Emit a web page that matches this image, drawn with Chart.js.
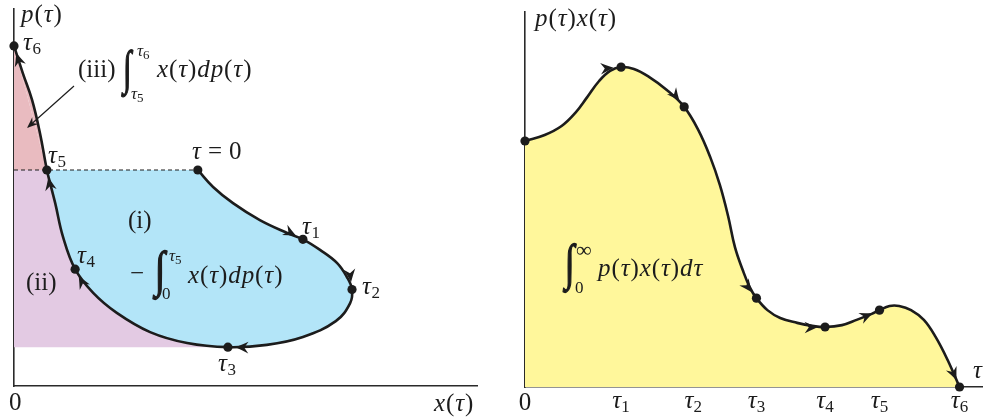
<!DOCTYPE html>
<html><head><meta charset="utf-8">
<script src="https://cdn.jsdelivr.net/npm/chart.js@4.4.1/dist/chart.umd.min.js"></script>
<style>
html,body{margin:0;padding:0;background:#fff;}
#wrap{position:relative;width:987px;height:418px;overflow:hidden;background:#fff;}
.layer{position:absolute;left:0;top:0;width:987px;height:418px;}
</style></head><body>
<div id="wrap">
<div class="layer"><canvas id="left"></canvas></div>
<div class="layer"><canvas id="right"></canvas></div>
</div>
<script>
// ---------- DATA ----------
// Left panel: parametric path (x(τ), p(τ)), τ = 0 → τ6 (arbitrary units 0..10)
const leftX = [3.97,4.30,4.73,5.31,5.90,6.24,6.61,6.98,7.19,7.30,7.26,6.95,6.24,5.46,4.62,3.74,2.94,2.22,1.71,1.32,1.06,0.89,0.78,0.71,0.56,0.39,0.19,0.00];
const leftP = [5.73,5.28,4.85,4.40,4.06,3.89,3.61,3.26,2.89,2.56,2.20,1.72,1.30,1.09,1.03,1.14,1.43,1.94,2.47,3.10,3.95,4.85,5.38,5.73,6.71,7.59,8.30,9.02];
const leftMarkIdx = [0,5,9,14,19,23,27];          // τ=0, τ1 … τ6

// Right panel: p(τ)x(τ) against τ
const rightT  = [0,0.43,0.80,1.10,1.36,1.62,1.86,2.10,2.38,2.71,3.10,3.48,3.79,4.05,4.26,4.44,4.59,4.76,4.91,5.06,5.30,5.58,5.95,6.28,6.56,6.93,7.25,7.58,7.75,7.97,8.18,8.44,8.72,8.98,9.24,9.50];
const rightPX = [6.56,6.72,6.96,7.31,7.73,8.16,8.43,8.53,8.48,8.27,7.92,7.47,6.85,6.13,5.39,4.56,3.73,3.12,2.67,2.37,2.05,1.84,1.71,1.63,1.60,1.65,1.79,1.95,2.05,2.16,2.16,2.05,1.79,1.33,0.72,0];
const rightMarkIdx = [0,7,11,19,24,28,35];
const tickValues = [0,2.10,3.68,5.06,6.56,7.75,9.50];
const tickLabels = ['0','1','2','3','4','5','6']; // '0' plain, others τ with subscript

// ---------- STYLE ----------
const INK = '#1c1c1c', AX = '#2a2a2a';
const BLUE = '#b3e5f8', PURPLE = '#e3cae3', RED = '#e9bbc0', YELLOW = '#fff79b';
const SERIF = '"Liberation Serif","DejaVu Serif",serif';
const B = 25, S = 17, SS = 13;

function pts(xs, ys, from, to) {
  const out = [];
  for (let i = from; i <= to; i++) out.push({x: xs[i], y: ys[i]});
  return out;
}

function txt(ctx, x, y, runs) {
  let cx = x;
  for (const r of runs) {
    const [t, it, sz, dy = 0, dx = 0] = r;
    cx += dx;
    ctx.font = (it ? 'italic ' : '') + sz + 'px ' + SERIF;
    ctx.fillText(t, cx, y + dy);
    cx += ctx.measureText(t).width;
  }
  return cx;
}
function math(s, size) {
  const runs = [];
  let first = true;
  for (const ch of s) { runs.push([ch, /[a-zτ]/.test(ch), size, 0, first ? 0 : 0.9]); first = false; }
  return runs;
}
function tauSub(ctx, x, y, d) { txt(ctx, x, y, [['τ', true, B], [d, false, S, 4, 0.5]]); }
function integral(ctx, x0, y0, x1, y1) {
  ctx.save();
  ctx.font = '40px ' + SERIF;
  const m = ctx.measureText('∫');
  const w = m.actualBoundingBoxLeft + m.actualBoundingBoxRight;
  const h = m.actualBoundingBoxAscent + m.actualBoundingBoxDescent;
  ctx.translate(x0, y0);
  ctx.scale((x1 - x0) / w, (y1 - y0) / h);
  ctx.lineWidth = 1.2; ctx.strokeStyle = INK;
  ctx.fillText('∫', m.actualBoundingBoxLeft, m.actualBoundingBoxAscent);
  ctx.strokeText('∫', m.actualBoundingBoxLeft, m.actualBoundingBoxAscent);
  ctx.restore();
}
function head(ctx, tx, ty, ux, uy, L, W) {
  const nx = -uy, ny = ux;
  ctx.beginPath();
  ctx.moveTo(tx, ty);
  ctx.quadraticCurveTo(tx - ux * L * 0.6 + nx * W * 0.55, ty - uy * L * 0.6 + ny * W * 0.55, tx - ux * L + nx * W, ty - uy * L + ny * W);
  ctx.lineTo(tx - ux * L * 0.68, ty - uy * L * 0.68);
  ctx.lineTo(tx - ux * L - nx * W, ty - uy * L - ny * W);
  ctx.quadraticCurveTo(tx - ux * L * 0.6 - nx * W * 0.55, ty - uy * L * 0.6 - ny * W * 0.55, tx, ty);
  ctx.closePath();
  ctx.fill();
}
function arrowsPlugin(dsIndex, idxs) {
  return {
    id: 'arrows',
    afterDatasetsDraw(chart) {
      const meta = chart.getDatasetMeta(dsIndex);
      const ctx = chart.ctx;
      ctx.save();
      ctx.fillStyle = INK;
      idxs.forEach(k => {
        if (k === 0) return;
        const p = meta.data[k];
        let dx = p.x - p.cp1x, dy = p.y - p.cp1y;
        let len = Math.hypot(dx, dy);
        if (!isFinite(len) || len < 0.5) {
          const q = meta.data[k - 1];
          dx = p.x - q.x; dy = p.y - q.y; len = Math.hypot(dx, dy);
        }
        const ux = dx / len, uy = dy / len;
        head(ctx, p.x - ux * 7.5, p.y - uy * 7.5, ux, uy, 13, 5.8);
      });
      ctx.restore();
    }
  };
}
function baseOptions(pad) {
  const axis = (isX) => ({
    type: 'linear', min: 0, max: 10,
    grid: {display: false, drawTicks: false},
    ticks: {display: false},
    border: {display: true, color: AX, width: 1.6},
    afterFit(s) { if (isX) s.height = 0; else s.width = 0; }
  });
  return {
    responsive: true, maintainAspectRatio: false, animation: false, events: [],
    layout: {padding: pad},
    plugins: {legend: {display: false}, tooltip: {enabled: false}},
    scales: {x: axis(true), y: axis(false)}
  };
}
const shapeDs = (data, color, tension, order) => ({
  data, fill: 'shape', backgroundColor: color, borderColor: 'transparent', borderWidth: 0,
  pointRadius: 0, tension, order, clip: false
});

// ---------- LEFT CHART ----------
const i0 = leftMarkIdx[0], i3 = leftMarkIdx[3], i5 = leftMarkIdx[5], i6 = leftMarkIdx[6];
const leftChart = new Chart(document.getElementById('left'), {
  type: 'line',
  data: {datasets: [
    // (ii) region (the loop interior is painted over it)
    shapeDs([{x: 0, y: leftP[i3]}, {x: leftX[i3], y: leftP[i3]}, {x: leftX[i0], y: leftP[i5]}, {x: 0, y: leftP[i5]}], PURPLE, 0, 10),
    // (i) loop interior τ=0 … τ5, closed by the dashed level
    shapeDs(pts(leftX, leftP, i0, i5), BLUE, 0.4, 9),
    // (iii) region
    shapeDs([{x: 0, y: leftP[i5]}, {x: leftX[i5], y: leftP[i5]}, {x: 0, y: leftP[i6]}], RED, 0, 8),
    shapeDs(pts(leftX, leftP, i5, i6), RED, 0.4, 7),
    // dashed level p(τ5) = p(0)
    {data: [{x: 0, y: leftP[i5]}, {x: leftX[i0], y: leftP[i0]}], borderColor: INK, borderWidth: 1.1,
     borderDash: [4, 3], pointRadius: 0, fill: false, order: 5, clip: false},
    // path
    {data: pts(leftX, leftP, 0, leftX.length - 1), borderColor: INK, borderWidth: 2.6, tension: 0.4,
     pointRadius: 0, fill: false, order: 2, clip: false},
    // marks
    {data: leftMarkIdx.map(i => ({x: leftX[i], y: leftP[i]})), showLine: false, pointRadius: 4.6,
     pointBackgroundColor: INK, pointBorderWidth: 0, order: 1, clip: false}
  ]},
  options: baseOptions({left: 14, top: 9, right: 510, bottom: 32}),
  plugins: [arrowsPlugin(5, leftMarkIdx), {
    id: 'leftText',
    afterDraw(chart) {
      const ctx = chart.ctx;
      ctx.save();
      ctx.fillStyle = INK; ctx.textBaseline = 'alphabetic';
      txt(ctx, 21, 22, math('p(τ)', B));
      tauSub(ctx, 23, 50, '6');
      txt(ctx, 78, 77, [['(iii)', false, B]]);
      integral(ctx, 121, 49, 134, 97);
      txt(ctx, 137, 56, [['τ', true, S], ['6', false, SS, 3]]);
      txt(ctx, 131, 99, [['τ', true, S], ['5', false, SS, 3]]);
      txt(ctx, 157, 77, math('x(τ)dp(τ)', B));
      tauSub(ctx, 48, 163, '5');
      txt(ctx, 192, 159, [['τ', true, B], ['=', false, B, 0, 7], ['0', false, B, 0, 7]]);
      txt(ctx, 128, 228, [['(i)', false, B]]);
      txt(ctx, 130, 281, [['−', false, B]]);
      integral(ctx, 152, 250, 168, 300);
      txt(ctx, 169, 261, [['τ', true, S], ['5', false, SS, 3]]);
      txt(ctx, 162, 299, [['0', false, S]]);
      txt(ctx, 188, 283, math('x(τ)dp(τ)', B));
      txt(ctx, 26, 290, [['(ii)', false, B]]);
      tauSub(ctx, 302, 234, '1');
      tauSub(ctx, 362, 294, '2');
      tauSub(ctx, 218, 371, '3');
      tauSub(ctx, 77, 263, '4');
      txt(ctx, 9, 410, [['0', false, B]]);
      txt(ctx, 434, 411, math('x(τ)', B));
      // pointer from the (iii) label into the region
      ctx.strokeStyle = INK; ctx.lineWidth = 1.2;
      const a = [74, 86], b = [27, 128];
      const dx = b[0] - a[0], dy = b[1] - a[1], L = Math.hypot(dx, dy);
      const ux = dx / L, uy = dy / L;
      ctx.beginPath(); ctx.moveTo(a[0], a[1]); ctx.lineTo(b[0] - ux * 6, b[1] - uy * 6); ctx.stroke();
      head(ctx, b[0], b[1], ux, uy, 11, 4.5);
      ctx.restore();
    }
  }]
});

// ---------- RIGHT CHART ----------
const rightChart = new Chart(document.getElementById('right'), {
  type: 'line',
  data: {datasets: [
    {data: pts(rightT, rightPX, 0, rightT.length - 1), borderColor: INK, borderWidth: 2.6,
     backgroundColor: YELLOW, fill: 'origin', tension: 0.4,
     pointRadius: 0, order: 2, clip: false},
    {data: rightMarkIdx.map(i => ({x: rightT[i], y: rightPX[i]})), showLine: false, pointRadius: 4.6,
     pointBackgroundColor: INK, pointBorderWidth: 0, order: 1, clip: false}
  ]},
  options: baseOptions({left: 525, top: 12, right: 0, bottom: 31}),
  plugins: [arrowsPlugin(0, rightMarkIdx), {
    id: 'rightText',
    afterDraw(chart) {
      const ctx = chart.ctx, xs = chart.scales.x;
      ctx.save();
      ctx.fillStyle = INK; ctx.textBaseline = 'alphabetic';
      txt(ctx, 535, 26, math('p(τ)x(τ)', B));
      integral(ctx, 562, 243, 577, 293);
      txt(ctx, 576, 257, [['∞', false, 22]]);
      txt(ctx, 575, 293, [['0', false, S]]);
      txt(ctx, 598, 276, math('p(τ)x(τ)dτ', B));
      txt(ctx, 973, 378, [['τ', true, B]]);
      tickValues.forEach((v, i) => {
        const px = xs.getPixelForValue(v);
        if (tickLabels[i] === '0') {
          ctx.font = B + 'px ' + SERIF;
          const w = ctx.measureText('0').width;
          txt(ctx, px - w / 2, 410, [['0', false, B]]);
        } else {
          ctx.font = 'italic ' + B + 'px ' + SERIF;
          const w1 = ctx.measureText('τ').width;
          ctx.font = S + 'px ' + SERIF;
          const w2 = ctx.measureText(tickLabels[i]).width;
          txt(ctx, px - (w1 + w2) / 2, 408, [['τ', true, B], [tickLabels[i], false, S, 4]]);
        }
      });
      ctx.restore();
    }
  }]
});
</script>
</body></html>
